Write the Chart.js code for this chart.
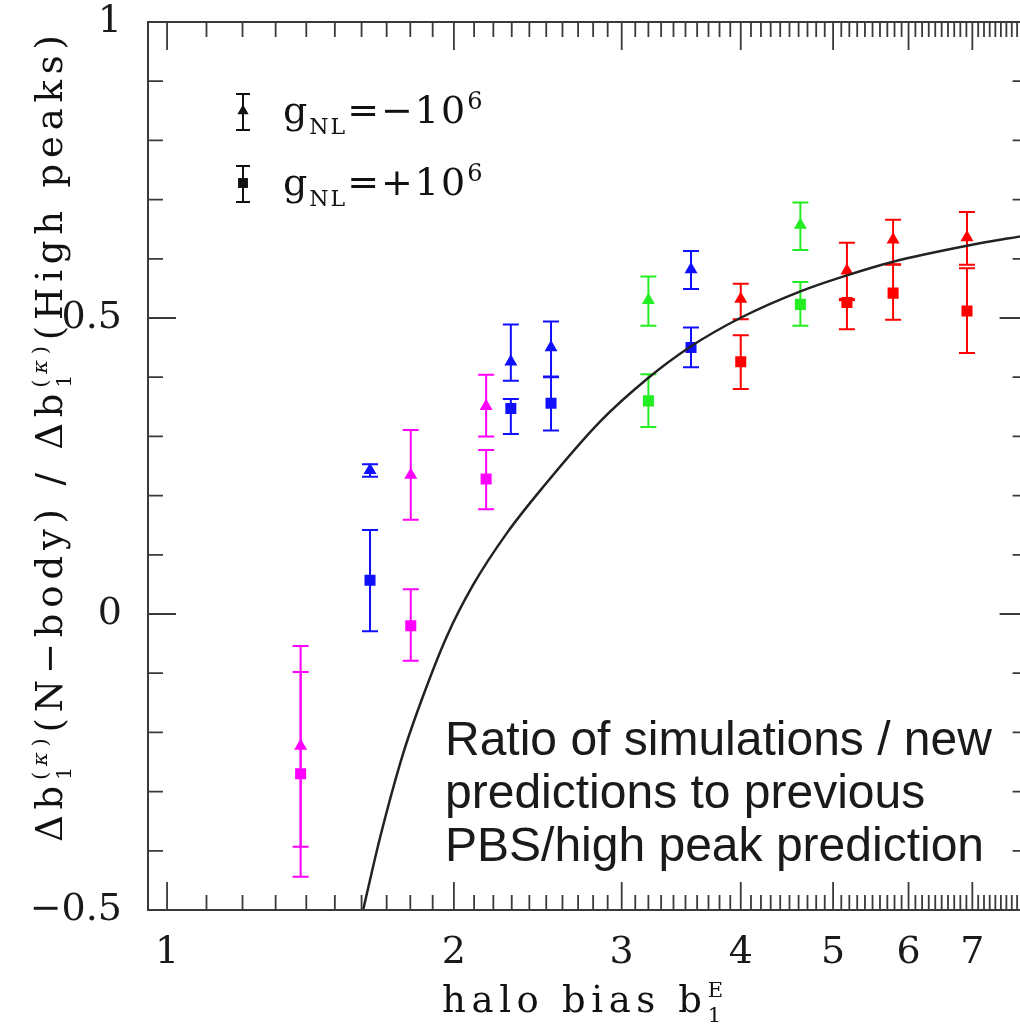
<!DOCTYPE html>
<html>
<head>
<meta charset="utf-8">
<title>Halo bias ratio</title>
<script src="https://cdn.jsdelivr.net/npm/chart.js@4.4.1/dist/chart.umd.min.js"></script>
<style>
  html, body { margin: 0; padding: 0; background: #fff; overflow: hidden; }
  canvas { display: block; }
</style>
</head>
<body>
<canvas id="ratio" width="1045" height="1025"></canvas>
<script>
// halo bias b1^E of each mass bin and its colour
const haloBias = [1.381, 1.633, 1.802, 2.162, 2.295, 2.529, 3.20, 3.547, 4.00, 4.62, 5.17, 5.78, 6.91];
const binColors = ['#ff00ff', '#1010ff', '#ff00ff', '#ff00ff', '#1010ff', '#1010ff', '#22ee22',
                   '#1010ff', '#ff0000', '#22ee22', '#ff0000', '#ff0000', '#ff0000'];

// gNL = -1e6 (triangles)
const negRatio = [-0.223, 0.243, 0.235, 0.351, 0.426, 0.450, 0.530, 0.582, 0.532, 0.657, 0.580, 0.632, 0.636];
const negLow   = [-0.393, 0.232, 0.159, 0.300, 0.394, 0.401, 0.487, 0.549, 0.498, 0.615, 0.530, 0.591, 0.590];
const negHigh  = [-0.098, 0.253, 0.311, 0.404, 0.489, 0.494, 0.570, 0.613, 0.558, 0.695, 0.627, 0.666, 0.679];

// gNL = +1e6 (squares)
const posRatio = [-0.270, 0.057, -0.020, 0.228, 0.347, 0.356, 0.360, 0.450, 0.426, 0.523, 0.526, 0.542, 0.512];
const posLow   = [-0.444, -0.029, -0.079, 0.177, 0.304, 0.310, 0.316, 0.417, 0.380, 0.487, 0.481, 0.497, 0.441];
const posHigh  = [-0.054, 0.142, 0.042, 0.277, 0.363, 0.400, 0.405, 0.484, 0.471, 0.561, 0.532, 0.590, 0.584];

// new prediction / high-peak prediction
const curveBias  = [1.606, 1.673, 1.769, 1.856, 1.967, 2.095, 2.274, 2.481, 2.847, 3.189, 3.538, 3.995, 4.62, 5.17, 5.78, 6.91, 8.0];
const curveRatio = [-0.5, -0.378, -0.236, -0.139, -0.037, 0.049, 0.137, 0.2145, 0.325, 0.397, 0.451, 0.500, 0.545, 0.572, 0.595, 0.622, 0.640];

const xTickValues = [1, 2, 3, 4, 5, 6, 7];
const xTickLabels = ['1', '2', '3', '4', '5', '6', '7'];
const yTickValues = [-0.5, 0, 0.5, 1];
const yTickLabels = ['\u22120.5', '0', '0.5', '1'];

const noteLines = ['Ratio of simulations / new', 'predictions to previous', 'PBS/high peak prediction'];

const SERIF = '"DejaVu Serif", serif';

function runFont(r) {
  return (r.italic ? 'italic ' : '') + r.size + 'px ' + SERIF;
}

// width of a list of text runs (runs flagged `keep` share the slot of the next run)
function richNatural(ctx, runs) {
  let w = 0, n = 0;
  runs.forEach(r => {
    if (r.keep) return;
    ctx.font = runFont(r);
    for (const ch of r.text) { w += ctx.measureText(ch).width; n++; }
  });
  return { w, n };
}

function drawRich(ctx, runs, x0, y0, spacing) {
  let x = x0;
  runs.forEach(r => {
    ctx.font = runFont(r);
    const start = x;
    for (const ch of r.text) {
      ctx.fillText(ch, x, y0 + (r.dy || 0));
      x += ctx.measureText(ch).width + spacing;
    }
    if (r.keep) x = start;
  });
}

function drawRichFit(ctx, runs, x0, y0, length) {
  const nat = richNatural(ctx, runs);
  drawRich(ctx, runs, x0, y0, (length - nat.w) / Math.max(nat.n - 1, 1));
}

const yTitleRuns = [
  { text: '\u0394b', size: 37 }, { text: '1', size: 21, dy: 9, keep: true },
  { text: '(', size: 21, dy: -15 }, { text: '\u03ba', size: 21, dy: -15, italic: true }, { text: ')', size: 21, dy: -15 },
  { text: '(N\u2212body)', size: 37 }, { text: ' / ', size: 37 },
  { text: '\u0394b', size: 37 }, { text: '1', size: 21, dy: 9, keep: true },
  { text: '(', size: 21, dy: -15 }, { text: '\u03ba', size: 21, dy: -15, italic: true }, { text: ')', size: 21, dy: -15 },
  { text: '(High peaks)', size: 37 }
];
const xTitleRuns = [
  { text: 'halo bias b', size: 37 }, { text: '1', size: 21, dy: 10, keep: true }, { text: 'E', size: 21, dy: -15 }
];
const legendRows = [
  { style: 'triangle', runs: [{ text: 'g', size: 38 }, { text: 'NL', size: 22, dy: 11 }, { text: '=\u221210', size: 38 }, { text: '6', size: 24, dy: -14 }] },
  { style: 'rect', runs: [{ text: 'g', size: 38 }, { text: 'NL', size: 22, dy: 11 }, { text: '=+10', size: 38 }, { text: '6', size: 24, dy: -14 }] }
];

// vertical error bars with caps, drawn under the markers
const errorBars = {
  id: 'errorBars',
  beforeDatasetsDraw(chart) {
    const { ctx, scales: { x, y } } = chart;
    ctx.save();
    ctx.lineWidth = 2;
    chart.data.datasets.forEach(ds => {
      if (!ds.errLow) return;
      ds.data.forEach((pt, i) => {
        const px = x.getPixelForValue(pt.x);
        const lo = y.getPixelForValue(ds.errLow[i]);
        const hi = y.getPixelForValue(ds.errHigh[i]);
        ctx.strokeStyle = ds.borderColor[i];
        ctx.beginPath();
        ctx.moveTo(px, lo); ctx.lineTo(px, hi);
        ctx.moveTo(px - 8, lo); ctx.lineTo(px + 8, lo);
        ctx.moveTo(px - 8, hi); ctx.lineTo(px + 8, hi);
        ctx.stroke();
      });
    });
    ctx.restore();
  }
};

// box frame with inward major/minor ticks on all four sides
const frameTicks = {
  id: 'frameTicks',
  afterDraw(chart) {
    const { ctx, chartArea: a, scales: { x, y } } = chart;
    ctx.save();
    ctx.strokeStyle = '#3a3a3a';
    ctx.lineWidth = 2;
    ctx.strokeRect(a.left, a.top, a.right - a.left, a.bottom - a.top);
    ctx.lineWidth = 1.8;
    ctx.beginPath();
    for (let k = 10; k <= 80; k++) {
      const px = x.getPixelForValue(k / 10);
      const len = k % 10 === 0 ? 28 : 15;
      ctx.moveTo(px, a.bottom); ctx.lineTo(px, a.bottom - len);
      ctx.moveTo(px, a.top); ctx.lineTo(px, a.top + len);
    }
    for (let k = -5; k <= 10; k++) {
      const py = y.getPixelForValue(k / 10);
      const len = k % 5 === 0 ? 28 : 15;
      ctx.moveTo(a.left, py); ctx.lineTo(a.left + len, py);
      ctx.moveTo(a.right, py); ctx.lineTo(a.right - len, py);
    }
    ctx.stroke();
    ctx.restore();
  }
};

// axis titles, legend and the annotation text
const annotations = {
  id: 'annotations',
  afterDraw(chart) {
    const ctx = chart.ctx;
    ctx.save();
    ctx.fillStyle = '#111';
    ctx.textBaseline = 'alphabetic';
    ctx.textAlign = 'left';

    drawRichFit(ctx, xTitleRuns, 442, 1012, 281);

    ctx.save();
    ctx.translate(62, 842);
    ctx.rotate(-Math.PI / 2);
    drawRichFit(ctx, yTitleRuns, 0, 0, 807);
    ctx.restore();

    // legend
    legendRows.forEach((row, i) => {
      const cy = 111 + i * 72;
      ctx.strokeStyle = '#111';
      ctx.lineWidth = 2;
      ctx.beginPath();
      ctx.moveTo(243, cy - 17); ctx.lineTo(243, cy + 19);
      ctx.moveTo(236, cy - 17); ctx.lineTo(250, cy - 17);
      ctx.moveTo(236, cy + 19); ctx.lineTo(250, cy + 19);
      ctx.stroke();
      Chart.helpers.drawPoint(ctx, { pointStyle: row.style, radius: row.style === 'rect' ? 7 : 6.5, rotation: 0, borderWidth: 0 }, 243, cy);
      drawRich(ctx, row.runs, 283, cy + 12, 2);
    });

    ctx.font = '48px "Liberation Sans", Arial, sans-serif';
    ctx.fillStyle = '#1a1a1a';
    noteLines.forEach((line, i) => ctx.fillText(line, 445, 755 + i * 53));
    ctx.restore();
  }
};

const tickFont = { family: SERIF, size: 38, lineHeight: 1.0 };

new Chart(document.getElementById('ratio'), {
  data: {
    datasets: [
      {
        type: 'line',
        data: curveBias.map((b, i) => ({ x: b, y: curveRatio[i] })),
        borderColor: '#222',
        borderWidth: 2.5,
        pointRadius: 0,
        cubicInterpolationMode: 'monotone',
        fill: false
      },
      {
        type: 'scatter',
        data: haloBias.map((b, i) => ({ x: b, y: negRatio[i] })),
        errLow: negLow,
        errHigh: negHigh,
        pointStyle: 'triangle',
        pointRadius: 7.5,
        backgroundColor: binColors,
        borderColor: binColors,
        borderWidth: 0
      },
      {
        type: 'scatter',
        data: haloBias.map((b, i) => ({ x: b, y: posRatio[i] })),
        errLow: posLow,
        errHigh: posHigh,
        pointStyle: 'rect',
        pointRadius: 7.8,
        backgroundColor: binColors,
        borderColor: binColors,
        borderWidth: 0
      }
    ]
  },
  options: {
    responsive: false,
    animation: false,
    devicePixelRatio: 1,
    layout: { padding: { top: 22, right: 17.4, left: 0, bottom: 0 } },
    plugins: { legend: { display: false }, tooltip: { enabled: false } },
    scales: {
      x: {
        type: 'logarithmic',
        min: 0.955,
        max: 8,
        grid: { display: false, drawTicks: false },
        border: { display: false },
        afterBuildTicks: s => { s.ticks = xTickValues.map(v => ({ value: v })); },
        afterFit: s => { s.height = 115; s.paddingLeft = 0; s.paddingRight = 0; },
        ticks: {
          autoSkip: false,
          maxRotation: 0,
          padding: 24,
          color: '#1a1a1a',
          font: tickFont,
          callback: (v, i) => xTickLabels[i]
        }
      },
      y: {
        min: -0.5,
        max: 1,
        grid: { display: false, drawTicks: false },
        border: { display: false },
        afterBuildTicks: s => { s.ticks = yTickValues.map(v => ({ value: v })); },
        afterFit: s => { s.width = 148; s.paddingTop = 0; s.paddingBottom = 0; },
        ticks: {
          padding: 26,
          color: '#1a1a1a',
          font: tickFont,
          callback: (v, i) => yTickLabels[i]
        }
      }
    }
  },
  plugins: [errorBars, frameTicks, annotations]
});
</script>
</body>
</html>
